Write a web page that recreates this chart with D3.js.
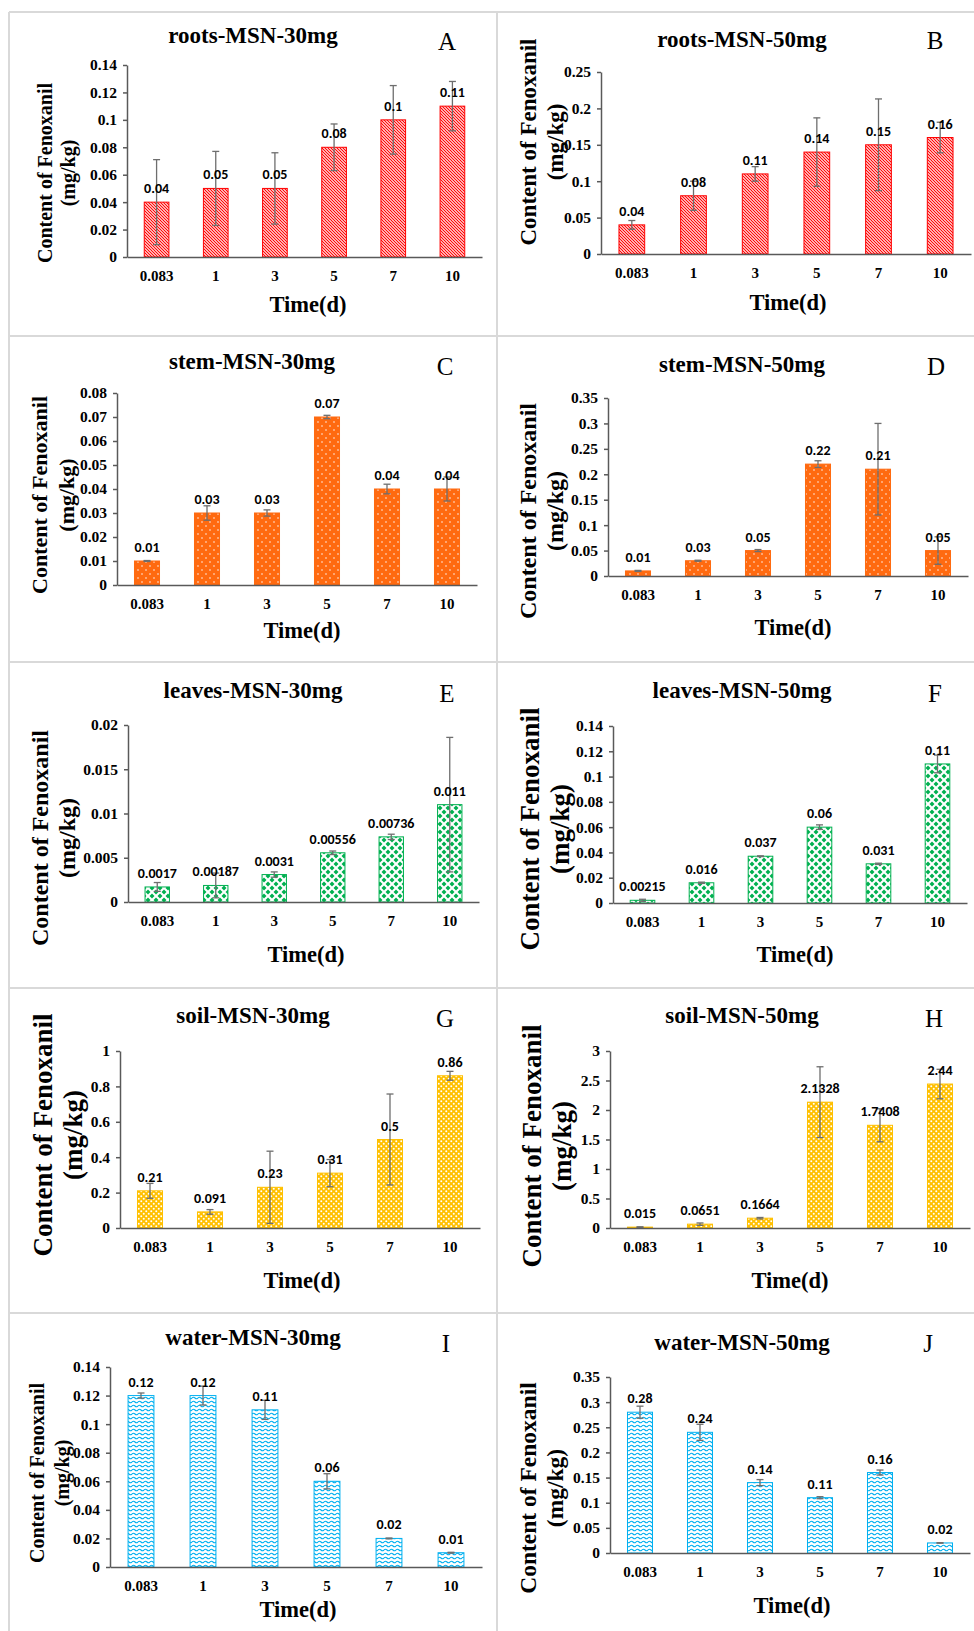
<!DOCTYPE html>
<html>
<head>
<meta charset="utf-8">
<script src="https://cdn.jsdelivr.net/npm/d3@7"></script>
<style>
  body { margin: 0; background: #fff; }
  svg { display: block; }
</style>
</head>
<body>
<div id="chart"></div>
<script>
// sampling times (days) shared by every panel
const times = ['0.083', '1', '3', '5', '7', '10'];

// mean values and error (SD) per panel
const rootsVals30 = [0.04, 0.05, 0.05, 0.08, 0.1, 0.11];
const rootsErr30 = [0.031, 0.027, 0.026, 0.017, 0.025, 0.018];
const rootsVals50 = [0.04, 0.08, 0.11, 0.14, 0.15, 0.16];
const rootsErr50 = [0.006, 0.02, 0.01, 0.047, 0.063, 0.021];

const stemVals30 = [0.01, 0.03, 0.03, 0.07, 0.04, 0.04];
const stemErr30 = [0.0002, 0.003, 0.0013, 0.0007, 0.002, 0.005];
const stemVals50 = [0.01, 0.03, 0.05, 0.22, 0.21, 0.05];
const stemErr50 = [0.001, 0.001, 0.002, 0.0066, 0.09, 0.027];

const leavesVals30 = [0.0017, 0.00187, 0.0031, 0.00556, 0.00736, 0.011];
const leavesErr30 = [0.0005, 0.0014, 0.0003, 0.0002, 0.0003, 0.0076];
const leavesVals50 = [0.00215, 0.016, 0.037, 0.06, 0.031, 0.11];
const leavesErr50 = [0.0008, 0.0005, 0.0003, 0.0018, 0.0005, 0.007];

const soilVals30 = [0.21, 0.091, 0.23, 0.31, 0.5, 0.86];
const soilErr30 = [0.042, 0.013, 0.204, 0.077, 0.257, 0.025];
const soilVals50 = [0.015, 0.0651, 0.1664, 2.1328, 1.7408, 2.44];
const soilErr50 = [0.005, 0.02, 0.012, 0.6, 0.28, 0.25];

const waterVals30 = [0.12, 0.12, 0.11, 0.06, 0.02, 0.01];
const waterErr30 = [0.0018, 0.0066, 0.0067, 0.0053, 0.0003, 0.0003];
const waterVals50 = [0.28, 0.24, 0.14, 0.11, 0.16, 0.02];
const waterErr50 = [0.012, 0.016, 0.006, 0.002, 0.005, 0.0005];

// y tick values
const ticks014 = [0, 0.02, 0.04, 0.06, 0.08, 0.1, 0.12, 0.14];
const ticks025 = [0, 0.05, 0.1, 0.15, 0.2, 0.25];
const ticks008 = [0, 0.01, 0.02, 0.03, 0.04, 0.05, 0.06, 0.07, 0.08];
const ticks035 = [0, 0.05, 0.1, 0.15, 0.2, 0.25, 0.3, 0.35];
const ticks002 = [0, 0.005, 0.01, 0.015, 0.02];
const ticks1 = [0, 0.2, 0.4, 0.6, 0.8, 1];
const ticks3 = [0, 0.5, 1, 1.5, 2, 2.5, 3];

const panels = [
  {title: 'roots-MSN-30mg', letter: 'A', vals: rootsVals30, errs: rootsErr30, ticks: ticks014, fill: 'roots'},
  {title: 'roots-MSN-50mg', letter: 'B', vals: rootsVals50, errs: rootsErr50, ticks: ticks025, fill: 'roots'},
  {title: 'stem-MSN-30mg', letter: 'C', vals: stemVals30, errs: stemErr30, ticks: ticks008, fill: 'stem'},
  {title: 'stem-MSN-50mg', letter: 'D', vals: stemVals50, errs: stemErr50, ticks: ticks035, fill: 'stem'},
  {title: 'leaves-MSN-30mg', letter: 'E', vals: leavesVals30, errs: leavesErr30, ticks: ticks002, fill: 'leaves'},
  {title: 'leaves-MSN-50mg', letter: 'F', vals: leavesVals50, errs: leavesErr50, ticks: ticks014, fill: 'leaves'},
  {title: 'soil-MSN-30mg', letter: 'G', vals: soilVals30, errs: soilErr30, ticks: ticks1, fill: 'soil'},
  {title: 'soil-MSN-50mg', letter: 'H', vals: soilVals50, errs: soilErr50, ticks: ticks3, fill: 'soil'},
  {title: 'water-MSN-30mg', letter: 'I', vals: waterVals30, errs: waterErr30, ticks: ticks014, fill: 'water'},
  {title: 'water-MSN-50mg', letter: 'J', vals: waterVals50, errs: waterErr50, ticks: ticks035, fill: 'water'}
];

// where each sub-chart sits on the page (the panels were pasted in by hand so they differ a bit)
// x0/x1 = plot left/right, y0 = zero line, y1 = top tick, t = title, l = letter,
// a = y-title line centres + centre y + font size, m = Time(d) position
const frames = [
  {x0: 127, x1: 482, y0: 257, y1: 65, tx: 253, ty: 43, lx: 447, ly: 50, a1: 45, a2: 68, ay: 173, af: 20, mx: 308, my: 312},
  {x0: 601, x1: 971, y0: 254, y1: 72, tx: 742, ty: 47, lx: 935, ly: 49, a1: 528, a2: 555, ay: 142, af: 23, mx: 788, my: 310},
  {x0: 117, x1: 477, y0: 585, y1: 393, tx: 252, ty: 369, lx: 445, ly: 375, a1: 40, a2: 67, ay: 495, af: 22, mx: 302, my: 638},
  {x0: 608, x1: 968, y0: 576, y1: 398, tx: 742, ty: 372, lx: 936, ly: 375, a1: 528, a2: 555, ay: 511, af: 24, mx: 793, my: 635},
  {x0: 128, x1: 479, y0: 902, y1: 725, tx: 253, ty: 698, lx: 447, ly: 702, a1: 40, a2: 67, ay: 838, af: 24, mx: 306, my: 962},
  {x0: 613, x1: 967, y0: 903, y1: 726, tx: 742, ty: 698, lx: 935, ly: 702, a1: 530, a2: 560, ay: 829, af: 27, mx: 795, my: 962},
  {x0: 120, x1: 480, y0: 1228, y1: 1051, tx: 253, ty: 1023, lx: 445, ly: 1027, a1: 43, a2: 73, ay: 1135, af: 27, mx: 302, my: 1288},
  {x0: 610, x1: 970, y0: 1228, y1: 1051, tx: 742, ty: 1023, lx: 934, ly: 1027, a1: 532, a2: 562, ay: 1146, af: 27, mx: 790, my: 1288},
  {x0: 110, x1: 482, y0: 1567, y1: 1367, tx: 253, ty: 1345, lx: 446, ly: 1352, a1: 37, a2: 62, ay: 1473, af: 20, mx: 298, my: 1617},
  {x0: 610, x1: 970, y0: 1553, y1: 1377, tx: 742, ty: 1350, lx: 928, ly: 1352, a1: 528, a2: 555, ay: 1488, af: 23.5, mx: 792, my: 1613}
];

const serif = '"Times New Roman", "Liberation Serif", serif';
const sans = 'Calibri, "Liberation Sans", Arial, sans-serif';
const axisGrey = '#595959';
const errGrey = '#6e6e6e';

const W = 974, H = 1631;
const svg = d3.select('#chart').append('svg')
  .attr('width', W)
  .attr('height', H);

// fill patterns, one per tissue
const defs = svg.append('defs');
const baseColor = {roots: '#ff0000', stem: '#ff6a10', leaves: '#00b050', soil: '#ffc000', water: '#00b0f0'};

function makePattern(id, w, h){
  return defs.append('pattern')
    .attr('id', 'pat-' + id)
    .attr('patternUnits', 'userSpaceOnUse')
    .attr('width', w)
    .attr('height', h);
}

// red downward diagonal stripes (dense)
const pRoots = makePattern('roots', 3, 3);
pRoots.append('rect').attr('width', 3).attr('height', 3).attr('fill', '#fff');
pRoots.append('path').attr('d', 'M-1,-1L4,4M-1,2L1,4M2,-1L4,1')
  .attr('stroke', baseColor.roots).attr('stroke-width', 1.2);

// orange with small white dots
const pStem = makePattern('stem', 8, 8);
pStem.append('rect').attr('width', 8).attr('height', 8).attr('fill', baseColor.stem);
[[2, 2], [6, 6]].forEach(c => pStem.append('circle').attr('cx', c[0]).attr('cy', c[1]).attr('r', 0.75).attr('fill', '#fff'));

// green diamonds on white
const pLeaves = makePattern('leaves', 8, 8);
pLeaves.append('rect').attr('width', 8).attr('height', 8).attr('fill', '#fff');
[[4, 4], [0, 0], [8, 0], [0, 8], [8, 8]].forEach(c => {
  const r = 2.5;
  pLeaves.append('path')
    .attr('d', `M${c[0]},${c[1] - r}L${c[0] + r},${c[1]}L${c[0]},${c[1] + r}L${c[0] - r},${c[1]}Z`)
    .attr('fill', baseColor.leaves);
});

// gold with white holes
const pSoil = makePattern('soil', 5, 5);
pSoil.append('rect').attr('width', 5).attr('height', 5).attr('fill', baseColor.soil);
[[1.25, 1.25], [3.75, 3.75]].forEach(c => pSoil.append('circle').attr('cx', c[0]).attr('cy', c[1]).attr('r', 1).attr('fill', '#fff'));

// cyan waves on white
const pWater = makePattern('water', 6, 4);
pWater.append('rect').attr('width', 6).attr('height', 4).attr('fill', '#fff');
pWater.append('path').attr('d', 'M0,2Q1.5,0.4 3,2T6,2')
  .attr('fill', 'none').attr('stroke', baseColor.water).attr('stroke-width', 1.1);

// grey frames around the pasted panels
const frameLines = svg.append('g').attr('stroke', '#d9d9d9').attr('stroke-width', 2).attr('fill', 'none');
[12, 336, 662, 988, 1313].forEach(yy => frameLines.append('line').attr('x1', 9).attr('x2', W).attr('y1', yy).attr('y2', yy));
[9, 497].forEach(xx => frameLines.append('line').attr('x1', xx).attr('x2', xx).attr('y1', 12).attr('y2', H));

const tickFmt = d3.format('~g');

panels.forEach((p, i) => {
  const f = frames[i];
  const g = svg.append('g').attr('class', 'panel');

  const xScale = d3.scaleBand()
    .domain(times)
    .range([f.x0, f.x1])
    .paddingInner(0.583)
    .paddingOuter(0.2915);

  const yScale = d3.scaleLinear()
    .domain([0, d3.max(p.ticks)])
    .range([f.y0, f.y1]);

  const data = times.map((t, j) => ({t: t, v: p.vals[j], e: p.errs[j]}));

  // bars
  g.append('g')
    .selectAll('rect')
    .data(data)
    .join('rect')
    .attr('x', d => xScale(d.t))
    .attr('y', d => yScale(d.v))
    .attr('width', xScale.bandwidth())
    .attr('height', d => yScale(0) - yScale(d.v))
    .attr('fill', `url(#pat-${p.fill})`)
    .attr('stroke', baseColor[p.fill])
    .attr('stroke-width', 1);

  // error bars
  const eb = g.append('g').attr('stroke', errGrey).attr('stroke-width', 1.3);
  data.forEach(d => {
    const cx = xScale(d.t) + xScale.bandwidth() / 2;
    const top = yScale(d.v + d.e), bot = yScale(Math.max(0, d.v - d.e));
    eb.append('line').attr('x1', cx).attr('x2', cx).attr('y1', top).attr('y2', bot);
    eb.append('line').attr('x1', cx - 3.5).attr('x2', cx + 3.5).attr('y1', top).attr('y2', top);
    eb.append('line').attr('x1', cx - 3.5).attr('x2', cx + 3.5).attr('y1', bot).attr('y2', bot);
  });

  // y axis
  const yAxis = d3.axisLeft(yScale)
    .tickValues(p.ticks)
    .tickFormat(tickFmt)
    .tickSizeInner(4)
    .tickSizeOuter(0)
    .tickPadding(6);
  const yg = g.append('g')
    .attr('transform', `translate(${f.x0},0)`)
    .call(yAxis);
  yg.selectAll('text')
    .style('font-family', serif).style('font-weight', 'bold').style('font-size', '15.5px').attr('fill', '#000');
  yg.selectAll('line, path').attr('stroke', axisGrey).attr('stroke-width', 1.5);

  // x axis
  const xAxis = d3.axisBottom(xScale).tickSize(0).tickPadding(13);
  const xg = g.append('g')
    .attr('transform', `translate(0,${f.y0})`)
    .call(xAxis);
  xg.selectAll('text')
    .style('font-family', serif).style('font-weight', 'bold').style('font-size', '15px').attr('fill', '#000');
  xg.select('.domain').attr('stroke', axisGrey).attr('stroke-width', 1.5);

  // value labels above bars
  g.append('g')
    .selectAll('text')
    .data(data)
    .join('text')
    .attr('x', d => xScale(d.t) + xScale.bandwidth() / 2)
    .attr('y', d => yScale(d.v) - 9)
    .attr('text-anchor', 'middle')
    .style('font-family', sans).style('font-weight', 'bold').style('font-size', '14px')
    .text(d => String(d.v));

  // panel title and letter
  g.append('text')
    .attr('x', f.tx).attr('y', f.ty)
    .attr('text-anchor', 'middle')
    .style('font-family', serif).style('font-weight', 'bold').style('font-size', '23px')
    .text(p.title);
  g.append('text')
    .attr('x', f.lx).attr('y', f.ly)
    .attr('text-anchor', 'middle')
    .style('font-family', serif).style('font-size', '25px')
    .text(p.letter);

  // y title, two rotated lines
  [[f.a1, 'Content of Fenoxanil'], [f.a2, '(mg/kg)']].forEach(l => {
    const bx = l[0] + 0.34 * f.af;
    g.append('text')
      .attr('transform', `translate(${bx},${f.ay}) rotate(-90)`)
      .attr('text-anchor', 'middle')
      .style('font-family', serif).style('font-weight', 'bold').style('font-size', f.af + 'px')
      .text(l[1]);
  });

  // x title
  g.append('text')
    .attr('x', f.mx).attr('y', f.my)
    .attr('text-anchor', 'middle')
    .style('font-family', serif).style('font-weight', 'bold').style('font-size', '22.5px')
    .text('Time(d)');
});
</script>
</body>
</html>
